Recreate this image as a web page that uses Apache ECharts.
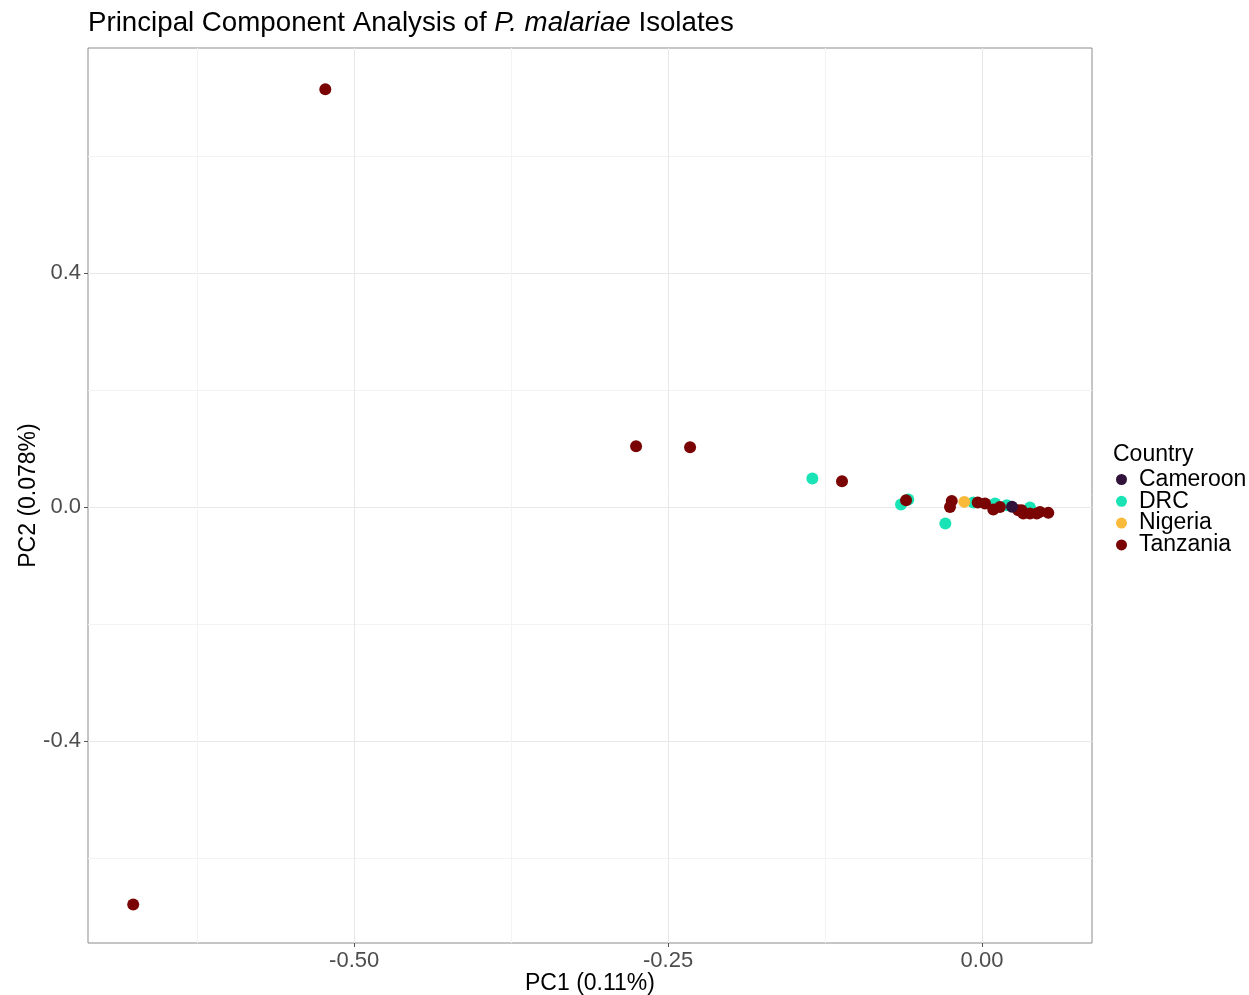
<!DOCTYPE html>
<html>
<head>
<meta charset="utf-8">
<title>PCA P. malariae</title>
<script src="https://cdn.jsdelivr.net/npm/echarts@6/dist/echarts.min.js"></script>
<style>
  html, body { margin: 0; padding: 0; background: #fff; }
  #chart-container { width: 1249px; height: 995px; }
</style>
</head>
<body>
<div id="chart-container"></div>
<script>
// countries, in legend order
var countries = ['Cameroon', 'DRC', 'Nigeria', 'Tanzania'];
var countryColors = ['#30123B', '#1AE4B6', '#FABA39', '#7A0403'];

// [PC1, PC2] per isolate
var cameroonPts = [
  [0.0239, 0.0009]
];
var drcPts = [
  [-0.1351, 0.0490], [-0.0645, 0.0046], [-0.0587, 0.0132], [-0.0292, -0.0279],
  [-0.0069, 0.0080], [0.0104, 0.0063], [0.0197, 0.0034], [0.0382, -0.0005]
];
var nigeriaPts = [
  [-0.0141, 0.0091]
];
var tanzaniaPts = [
  [-0.5230, 0.7145], [-0.6760, -0.6790], [-0.2755, 0.1040], [-0.2325, 0.1026],
  [-0.1115, 0.0444], [-0.0605, 0.0120], [-0.0241, 0.0108], [-0.0255, 0.0005],
  [-0.0034, 0.0080], [0.0024, 0.0063], [0.0090, -0.0039], [0.0143, 0.0005],
  [0.0289, -0.0051], [0.0316, -0.0051], [0.0329, -0.0108], [0.0382, -0.0108],
  [0.0436, -0.0108], [0.0462, -0.0080], [0.0528, -0.0097]
];

var xMajor = [-0.5, -0.25, 0];
var xMinor = [-0.625, -0.375, -0.125];
var yMajor = [-0.4, 0, 0.4];
var yMinor = [-0.6, -0.2, 0.2, 0.6];
var xRange = [-0.712, 0.0876];
var yRange = [-0.745, 0.785];

var xLabels = { '-0.5': '-0.50', '-0.25': '-0.25', '0': '0.00' };
var yLabels = { '-0.4': '-0.4', '0': '0.0', '0.4': '0.4' };

var allPts = [cameroonPts, drcPts, nigeriaPts, tanzaniaPts];

var dom = document.getElementById('chart-container');
var myChart = echarts.init(dom, null, { renderer: 'canvas' });

var fontFam = 'Liberation Sans, Arial, sans-serif';

var option = {
  animation: false,
  backgroundColor: '#ffffff',
  title: [{
    text: 'Principal Component Analysis of {it|P. malariae} Isolates',
    left: 83,
    top: 4,
    textStyle: {
      fontFamily: fontFam,
      fontSize: 27.7,
      fontWeight: 'normal',
      color: '#000000',
      rich: {
        it: { fontFamily: fontFam, fontSize: 27.7, fontStyle: 'italic', color: '#000000' }
      }
    }
  }, {
    text: 'Country',
    left: 1108,
    top: 438,
    textStyle: { fontFamily: fontFam, fontSize: 23, fontWeight: 'normal', color: '#000000' }
  }],
  legend: {
    orient: 'vertical',
    left: 1111,
    top: 463,
    itemWidth: 11,
    itemHeight: 11,
    itemGap: -1.2,
    icon: 'circle',
    data: countries,
    textStyle: {
      fontFamily: fontFam,
      fontSize: 23,
      lineHeight: 21.3,
      color: '#000000',
      padding: [0, 0, 0, 7]
    }
  },
  grid: {
    left: 88,
    right: 157,
    top: 48,
    bottom: 52,
    outerBoundsMode: 'none',
    containLabel: false,
    show: true,
    borderColor: '#8c8c8c',
    borderWidth: 1,
    backgroundColor: 'transparent'
  },
  xAxis: [{
    type: 'value',
    min: xRange[0],
    max: xRange[1],
    name: 'PC1 (0.11%)',
    nameLocation: 'middle',
    nameGap: 29,
    nameMoveOverlap: false,
    nameTextStyle: { fontFamily: fontFam, fontSize: 23, color: '#000000' },
    axisLine: { show: false, onZero: false },
    axisTick: { show: true, length: 4, customValues: xMajor, lineStyle: { color: '#555555' } },
    axisLabel: {
      customValues: xMajor,
      margin: 7,
      fontFamily: fontFam,
      fontSize: 22,
      color: '#4d4d4d',
      formatter: function (v) { return xLabels[String(v)] !== undefined ? xLabels[String(v)] : v; }
    },
    splitLine: { show: true, lineStyle: { color: '#e8e8e8', width: 1 } }
  }, {
    // minor gridlines only
    type: 'value',
    position: 'top',
    min: xRange[0],
    max: xRange[1],
    axisLine: { show: false, onZero: false },
    axisTick: { show: false, customValues: xMinor },
    axisLabel: { show: false, customValues: xMinor },
    splitLine: { show: true, lineStyle: { color: '#f3f3f3', width: 1 } }
  }],
  yAxis: [{
    type: 'value',
    min: yRange[0],
    max: yRange[1],
    name: 'PC2 (0.078%)',
    nameLocation: 'middle',
    nameGap: 48,
    nameMoveOverlap: false,
    nameTextStyle: { fontFamily: fontFam, fontSize: 23, color: '#000000' },
    axisLine: { show: false, onZero: false },
    axisTick: { show: true, length: 4, customValues: yMajor, lineStyle: { color: '#555555' } },
    axisLabel: {
      customValues: yMajor,
      margin: 7,
      fontFamily: fontFam,
      fontSize: 22,
      color: '#4d4d4d',
      formatter: function (v) { return yLabels[String(v)] !== undefined ? yLabels[String(v)] : v; }
    },
    splitLine: { show: true, lineStyle: { color: '#e8e8e8', width: 1 } }
  }, {
    type: 'value',
    position: 'right',
    min: yRange[0],
    max: yRange[1],
    axisLine: { show: false, onZero: false },
    axisTick: { show: false, customValues: yMinor },
    axisLabel: { show: false, customValues: yMinor },
    splitLine: { show: true, lineStyle: { color: '#f3f3f3', width: 1 } }
  }],
  series: countries.map(function (name, i) {
    return {
      name: name,
      type: 'scatter',
      xAxisIndex: 0,
      yAxisIndex: 0,
      symbol: 'circle',
      symbolSize: 12,
      z: name === 'Cameroon' ? 5 : 3,
      itemStyle: { color: countryColors[i], opacity: 1 },
      emphasis: { disabled: true },
      data: allPts[i]
    };
  })
};

myChart.setOption(option);
window.addEventListener('resize', myChart.resize);
</script>
</body>
</html>
